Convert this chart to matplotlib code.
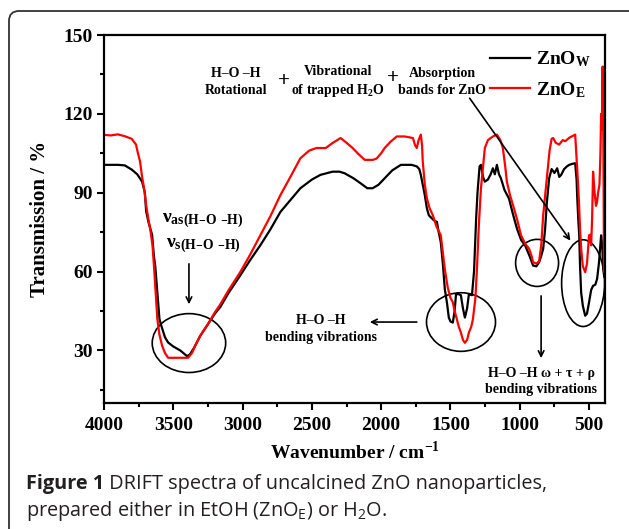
import numpy as np
import matplotlib
matplotlib.use("Agg")
import matplotlib.pyplot as plt
from matplotlib.patches import Ellipse, FancyBboxPatch

wn_w = [4000, 3900, 3850, 3800, 3760, 3725, 3705, 3696, 3680, 3653, 3640, 3630,
        3615, 3600, 3590, 3560, 3537, 3500, 3450, 3400, 3380, 3350, 3306, 3250,
        3200, 3161, 3100, 3017, 2950, 2872, 2800, 2727, 2650, 2583, 2500, 2438,
        2351, 2300, 2264, 2200, 2149, 2100, 2062, 2020, 1975, 1920, 1858, 1780,
        1743, 1725, 1714, 1700, 1685, 1670, 1656, 1620, 1598, 1585, 1570, 1555,
        1541, 1525, 1512, 1500, 1483, 1470, 1460, 1440, 1425, 1410, 1396, 1380,
        1367, 1345, 1330, 1315, 1305, 1290, 1280, 1265, 1252, 1230, 1210, 1194,
        1180, 1165, 1150, 1136, 1110, 1078, 1050, 1020, 990, 962, 930, 904, 880,
        860, 845, 831, 817, 805, 788, 770, 750, 730, 715, 701, 680, 660, 643, 620,
        600, 590, 586, 578, 571, 565, 557, 545, 528, 515, 500, 485, 471, 455, 442,
        428, 420, 413, 405, 398, 390]
t_w = [100.6, 100.6, 100.4, 98.8, 97, 94.2, 90, 83, 79, 74, 66, 62,
       52, 42, 40, 35, 33, 31.5, 30, 27.8, 28.5, 31, 35.5, 40,
       44, 46.5, 52, 58.5, 64, 70, 76, 82.7, 87.5, 91.7, 95, 96.8,
       98, 98, 97.4, 95.5, 93.6, 91.7, 91.7, 93, 95.5, 98.5, 100.6, 100.6,
       100, 99, 96.8, 93, 89, 84, 81.4, 79.5, 78.9, 75, 71.2, 63,
       53.4, 48, 42.5, 41, 40.6, 45, 51.4, 51.4, 51, 46, 42.5, 46,
       51.4, 51, 60, 80, 90, 100, 100.6, 96, 94.2, 95, 97, 99.3,
       97, 100.6, 97, 95.5, 91, 87.8, 82, 76.3, 72, 70, 66, 62.3, 62,
       63.6, 66, 68.7, 76.3, 86, 95.5, 99, 97.5, 99.3, 96, 96.8, 99, 100, 100.6, 101,
       101.2, 95, 89.1, 80, 73.8, 62, 52, 47, 43.2, 44, 48.3, 53, 54.6, 55, 57.2,
       63.6, 69, 73.8, 70, 61, 58]

wn_e = [4000, 3950, 3900, 3850, 3800, 3769, 3755, 3740, 3725, 3711, 3696, 3680,
        3667, 3650, 3638, 3625, 3615, 3600, 3580, 3560, 3537, 3450, 3393, 3364,
        3340, 3306, 3250, 3200, 3161, 3100, 3017, 2950, 2872, 2800, 2727, 2650,
        2583, 2520, 2467, 2400, 2351, 2293, 2250, 2206, 2160, 2119, 2060, 2033,
        2000, 1975, 1930, 1887, 1830, 1771, 1755, 1743, 1730, 1714, 1705, 1700,
        1685, 1670, 1650, 1627, 1600, 1570, 1555, 1541, 1520, 1500, 1483, 1470,
        1454, 1440, 1425, 1410, 1396, 1380, 1367, 1350, 1338, 1320, 1309, 1295,
        1280, 1265, 1252, 1230, 1194, 1165, 1140, 1122, 1105, 1093, 1070, 1049,
        1020, 991, 960, 933, 915, 904, 880, 860, 850, 845, 831, 815, 802, 785,
        770, 759, 740, 716, 690, 672, 640, 600, 592, 586, 578, 571, 565, 557,
        545, 528, 515, 500, 490, 485, 478, 471, 460, 450, 442, 435, 425, 418,
        413, 408, 402, 397, 392]
t_e = [112, 111.8, 112.2, 111.5, 110.5, 108.3, 105, 101.9, 96, 91.7, 85.3, 80,
       76.3, 70, 61, 50, 41.9, 36, 31.7, 29, 27.2, 27.2, 27.2, 29.1,
       32, 35.5, 40, 44.5, 47.5, 53, 59.8, 66, 73.8, 81, 89.1, 96.5,
       103.1, 106, 107, 107, 108.9, 110.8, 109, 107, 104.5, 102.5, 102.5, 103,
       105, 107, 109.5, 111.4, 111.4, 110.8, 108, 107, 110, 112.1, 108, 101.9,
       93, 87.8, 84, 81.4, 77, 73.8, 67, 61, 54, 50, 48.3, 45,
       41.9, 39, 36.8, 34, 32.9, 34, 36.8, 39, 41.9, 50, 61, 78,
       91.7, 100, 107, 110, 111.4, 112.1, 110, 107, 100, 94.2, 89, 85.3,
       80, 73.8, 70.5, 68.7, 66, 63.6, 63, 64, 68, 70, 81.4, 90, 96.8, 106,
       110.5, 110.8, 109, 108.3, 110, 109.6, 111, 112.1, 105, 99.3, 92, 84, 76, 68.7,
       62, 59.8, 63, 73.8, 74, 70, 80, 98, 90, 85, 86.5, 90, 93, 105,
       120, 114, 138, 110, 60]

x_ticks = [4000, 3500, 3000, 2500, 2000, 1500, 1000, 500]
y_ticks = [30, 60, 90, 120, 150]

serif = "Liberation Serif"
sans = "Open Sans"

fig = plt.figure(figsize=(6.29, 5.29), dpi=100)
ax = fig.add_axes([104/629, 1-403/529, 501/629, 368/529])

ax.plot(wn_w, t_w, color="black", lw=1.6, label=r"ZnO$\mathregular{_W}$")
ax.plot(wn_e, t_e, color="red", lw=1.6, label=r"ZnO$\mathregular{_E}$")

ax.set_xlim(4000, 385)
ax.set_ylim(10, 150)
ax.set_xticks(x_ticks)
ax.set_xticks(np.arange(3750, 385, -500), minor=True)
ax.set_yticks(y_ticks)
ax.set_yticks(np.arange(15, 150, 30), minor=True)
for s in ax.spines.values():
    s.set_linewidth(1.6)
ax.tick_params(which="major", length=5, width=1.5, direction="out")
ax.tick_params(which="minor", length=3, width=1.5, direction="out")
ax.tick_params(axis="x", pad=5)
ax.tick_params(axis="y", pad=3)
for lab in ax.get_xticklabels() + ax.get_yticklabels():
    lab.set_fontfamily(serif)
    lab.set_fontweight("bold")
    lab.set_fontsize(14)

ax.set_xlabel(r"Wavenumber / cm$^{\mathregular{-1}}$", fontfamily=serif,
              fontweight="bold", fontsize=14, labelpad=5)
ax.set_ylabel("Transmission / %", fontfamily=serif, fontweight="bold",
              fontsize=15, labelpad=10)

leg = ax.legend(loc="upper right", frameon=False, handlelength=2.05,
                handletextpad=0.3, labelspacing=0.55, borderaxespad=0.35,
                prop=dict(family=serif, weight="bold", size=14))

ann = dict(fontfamily=serif, fontweight="bold", fontsize=10, ha="center",
           va="center", linespacing=1.35)
ax.text(3047, 132.2, "H–O –H\nRotational", **ann)
ax.text(2701, 132.5, "+", fontfamily=serif, fontweight="bold", fontsize=15,
        ha="center", va="center")
ax.text(2311, 132.2, "Vibrational\n" + r"of trapped H$\mathregular{_2}$O", **ann)
ax.text(1915, 133.5, "+", fontfamily=serif, fontweight="bold", fontsize=15,
        ha="center", va="center")
ax.text(1561, 132.2, "Absorption\nbands for ZnO", **ann)
ax.annotate("", xy=(623, 70.9), xytext=(1373, 126.8),
            arrowprops=dict(arrowstyle="->", color="black", lw=1.2))

ax.text(3286, 79.2, r"$\mathregular{\nu_{as(H–O\ –H)}}$", fontfamily=serif,
        fontweight="bold", fontsize=14, ha="center", va="center")
ax.text(3286, 69.7, r"$\mathregular{\nu_{s(H–O\ –H)}}$", fontfamily=serif,
        fontweight="bold", fontsize=14, ha="center", va="center")
ax.annotate("", xy=(3387, 46.5), xytext=(3387, 64),
            arrowprops=dict(arrowstyle="->", color="black", lw=1.2))

ax.text(2434, 38.2, "H–O –H\nbending vibrations", **ann)
ax.annotate("", xy=(2102, 40.8), xytext=(1723, 40.8),
            arrowprops=dict(arrowstyle="->", color="black", lw=1.2))

ax.text(846, 18.2, "H–O –H ω + τ + ρ\nbending vibrations", **ann)
ax.annotate("", xy=(846, 26), xytext=(846, 51.8),
            arrowprops=dict(arrowstyle="->", color="black", lw=1.2))

for cx, cy, w, h in [(3387, 32.8, 530, 22.4), (1424, 40.8, 498, 22.3),
                     (875, 63.3, 310, 17.9), (543, 55.6, 310, 33)]:
    ax.add_patch(Ellipse((cx, cy), w, h, fill=False, ec="black", lw=1.2))

# rounded frame around the figure
frame = FancyBboxPatch((0.09, -1), 7, 5.18 + 1,
                       boxstyle="round,pad=0,rounding_size=0.1",
                       transform=fig.dpi_scale_trans, fill=False,
                       ec="#333333", lw=1.3, clip_on=False)
fig.patches.append(frame)

# caption
cap = dict(fontfamily=sans, fontsize=14.3, color="#231f20", va="center")
t1 = fig.text(26/629, 1-484/529, "Figure 1", fontweight="bold", **cap)
fig.canvas.draw()
bb = t1.get_window_extent()
fig.text(bb.x1/629, 1-484/529, " DRIFT spectra of uncalcined ZnO nanoparticles,", **cap)
fig.text(26/629, 1-511/529,
         r"prepared either in EtOH (ZnO$\mathregular{_E}$) or H$\mathregular{_2}$O.", **cap)

fig.savefig("out.png", dpi=100)
